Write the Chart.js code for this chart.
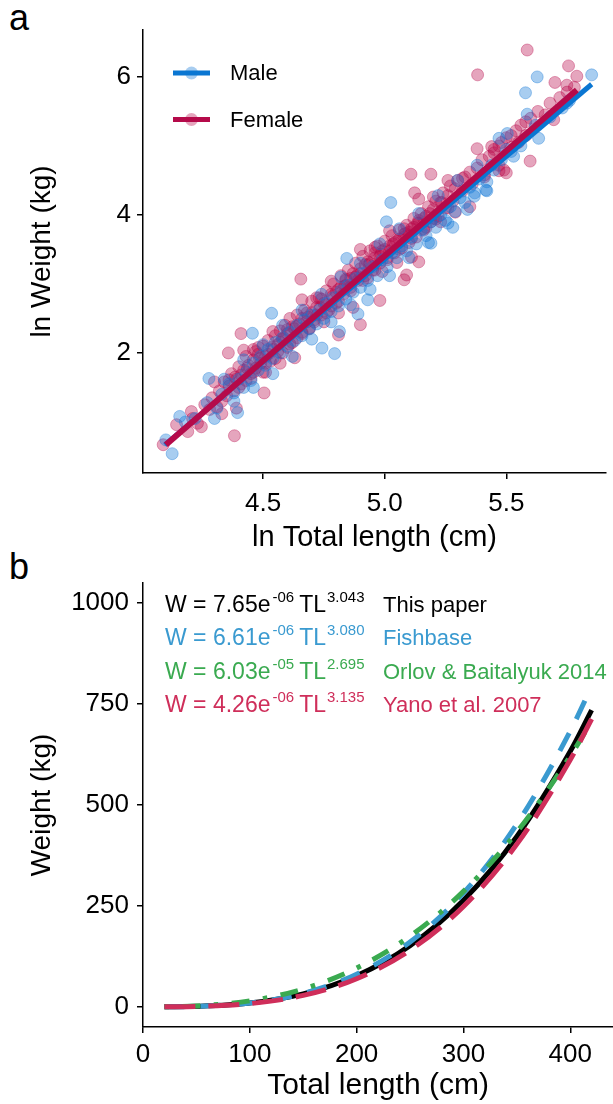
<!DOCTYPE html>
<html>
<head>
<meta charset="utf-8">
<script src="https://cdn.jsdelivr.net/npm/chart.js@4.4.0/dist/chart.umd.min.js"></script>
<style>
  body { margin: 0; background: #fff; width: 613px; height: 1104px; position: relative; overflow: hidden; font-family: "Liberation Sans", Arial, sans-serif; }
  .lab { position: absolute; left: 9px; font-size: 36px; line-height: 36px; color: #000; }
  #wrapA { position: absolute; left: 0; top: 0; }
  #wrapB { position: absolute; left: 0; top: 555px; }
</style>
</head>
<body>
<div class="lab" style="top:0px">a</div>
<div class="lab" style="top:549px">b</div>
<div id="wrapA"><canvas id="chartA" width="613" height="555"></canvas></div>
<div id="wrapB"><canvas id="chartB" width="613" height="549"></canvas></div>
<script>
// ---- panel a: ln weight vs ln total length ----
const femalePoints = [
  [4.21,1.05],[4.23,0.98],[4.26,1.25],[4.28,1.18],[4.29,1.35],[4.31,1.22],[4.32,1.45],[4.33,1.30],[4.34,1.58],[4.35,1.38],
  [4.36,1.52],[4.37,1.70],[4.38,1.45],[4.39,1.62],[4.40,1.80],[4.40,1.50],[4.41,1.68],[4.42,1.75],[4.43,1.95],[4.43,1.60],
  [4.44,1.82],[4.45,1.70],[4.46,1.90],[4.46,2.05],[4.47,1.78],[4.48,1.98],[4.49,1.85],[4.50,2.10],[4.50,1.72],[4.51,1.95],
  [4.52,2.18],[4.53,1.88],[4.54,2.05],[4.55,2.25],[4.55,1.92],[4.56,2.12],[4.57,2.32],[4.58,2.00],[4.58,2.20],[4.59,2.40],
  [4.60,2.08],[4.60,2.28],[4.61,2.50],[4.62,2.15],[4.63,2.35],[4.64,2.55],[4.64,2.22],[4.65,2.42],[4.66,2.30],[4.67,2.62],
  [4.68,2.45],[4.69,2.35],[4.70,2.58],[4.70,2.75],[4.71,2.48],[4.72,2.66],[4.73,2.80],[4.74,2.55],[4.75,2.72],[4.76,2.90],
  [4.77,2.62],[4.78,2.85],[4.79,3.00],[4.80,2.72],[4.81,2.92],[4.82,3.12],[4.83,2.85],[4.84,3.05],[4.85,3.20],[4.86,2.95],
  [4.87,3.15],[4.88,3.30],[4.89,3.05],[4.90,3.22],[4.91,3.40],[4.92,3.12],[4.93,3.32],[4.94,3.48],[4.95,3.20],[4.96,3.38],
  [4.97,3.55],[4.98,3.30],[4.99,3.48],[5.00,3.62],[5.01,3.38],[5.02,3.55],[5.03,3.70],[5.04,3.45],[5.05,3.62],[5.06,3.78],
  [5.07,3.52],[5.08,3.72],[5.09,3.85],[5.10,3.60],[5.11,3.80],[5.12,3.95],[5.13,3.68],[5.14,3.88],[5.15,4.02],[5.16,3.78],
  [5.17,3.98],[5.18,4.12],[5.19,3.90],[5.20,4.08],[5.21,4.20],[5.22,3.98],[5.23,4.18],[5.24,4.32],[5.25,4.10],[5.26,4.28],
  [5.27,4.42],[5.28,4.20],[5.29,4.38],[5.30,4.50],[5.32,4.35],[5.33,4.55],[5.35,4.62],[5.36,4.45],[5.38,4.68],[5.40,4.80],
  [5.41,4.58],[5.43,4.85],[5.45,4.95],[5.47,4.72],[5.48,5.05],[5.50,5.12],[5.52,4.98],[5.54,5.22],[5.56,5.30],[5.58,5.15],
  [5.60,5.40],[5.63,5.50],[5.66,5.45],[5.68,5.62],[5.72,5.70],[5.75,5.78],[5.78,5.85],
  [4.47,2.02],[4.52,1.98],[4.57,2.15],[4.62,2.38],[4.66,2.50],[4.72,2.55],[4.76,2.70],[4.80,2.88],[4.84,2.98],[4.88,3.10],
  [4.92,3.28],[4.96,3.45],[5.00,3.50],[5.04,3.60],[5.08,3.68],[5.12,3.82],[5.16,3.95],[5.20,3.95],[4.68,2.58],[4.74,2.78],
  [4.78,2.68],[4.82,2.95],[4.86,3.08],[4.90,3.15],[4.94,3.30],[4.98,3.40],[5.02,3.48],[5.06,3.65],[5.10,3.75],[5.14,3.92],
  [5.45,4.90],[5.47,5.00],[5.52,5.15],[5.55,5.05],[5.58,5.35],
  [4.30,1.58],[4.33,1.12],[4.36,1.61],[4.39,1.20],[4.42,2.04],[4.45,1.63],[4.48,2.08],[4.51,1.72],[4.54,2.31],[4.57,1.85],
  [4.60,2.34],[4.63,1.93],[4.66,2.77],[4.69,2.36],[4.72,2.80],[4.75,2.45],[4.78,3.04],[4.81,2.58],[4.84,3.07],[4.87,2.66],
  [4.90,3.50],[4.93,3.09],[4.96,3.53],[4.99,3.18],[5.02,3.77],[5.05,3.31],[5.08,3.80],[5.11,3.39],[5.14,4.23],[5.17,3.82],
  [5.20,4.26],[5.23,3.90],[5.26,4.50],[5.29,4.04],[5.32,4.53],[5.35,4.12],[5.38,4.96],[5.41,4.55],[5.44,4.99],[5.47,4.64],
  [4.385,1.65],[4.41,1.55],[4.435,1.78],[4.46,1.72],[4.485,1.92],[4.51,1.85],[4.535,2.08],[4.56,2.02],[4.585,2.22],[4.61,2.13],
  [4.635,2.38],[4.66,2.28],[4.685,2.52],[4.71,2.45],[4.735,2.66],[4.76,2.58],[4.785,2.82],[4.81,2.75],[4.835,2.97],[4.86,2.90],
  [4.885,3.12],[4.91,3.05],[4.935,3.28],[4.96,3.20],[4.985,3.43],[5.01,3.35],[5.035,3.58],[5.06,3.50],[5.085,3.73],[5.11,3.66],
  [5.135,3.88],[5.16,3.80],[5.185,4.02],[5.21,3.94],[5.235,4.18],[5.26,4.10],
  [5.586,6.39],[5.382,6.03],[5.756,6.16],[5.79,6.01],[5.70,5.92],[5.749,5.88],[5.695,5.38],[5.598,4.78],[5.49,4.65],[5.50,4.61],
  [5.108,4.59],[5.19,4.59],[5.123,4.32],[4.98,2.76],[4.90,2.41],[4.81,2.26],[4.655,3.07],[4.409,2.28],[4.357,2.00],[4.504,1.42],
  [4.382,0.80],[4.246,0.93],[4.19,0.86],[4.089,0.67],[4.205,1.15],[4.144,0.96],[5.08,3.06],[5.09,3.13],[5.14,3.32]
];
const malePoints = [
  [4.18,1.00],[4.22,1.05],[4.27,1.28],[4.31,1.20],[4.33,1.40],[4.36,1.55],[4.38,1.42],[4.40,1.62],[4.42,1.50],[4.43,1.72],
  [4.45,1.60],[4.46,1.85],[4.48,1.75],[4.49,1.95],[4.51,1.82],[4.52,2.05],[4.54,1.92],[4.55,2.15],[4.57,2.00],[4.58,2.22],
  [4.60,2.10],[4.61,2.30],[4.63,2.18],[4.64,2.40],[4.66,2.25],[4.67,2.48],[4.69,2.35],[4.70,2.55],[4.72,2.42],[4.73,2.62],
  [4.75,2.50],[4.76,2.72],[4.78,2.60],[4.79,2.80],[4.81,2.68],[4.82,2.90],[4.84,2.78],[4.85,2.98],[4.87,2.88],[4.88,3.08],
  [4.90,2.95],[4.91,3.15],[4.93,3.05],[4.95,3.25],[4.97,3.12],[4.99,3.35],[5.01,3.25],[5.03,3.45],[5.05,3.38],[5.07,3.55],
  [5.09,3.48],[5.11,3.68],[5.13,3.58],[5.15,3.78],[5.17,3.70],[5.19,3.90],[5.21,3.82],[5.23,4.00],[5.25,3.92],[5.27,4.12],
  [5.29,4.05],[5.31,4.25],[5.33,4.18],[5.35,4.40],[5.37,4.32],[5.39,4.52],[5.42,4.48],[5.45,4.65],[5.48,4.80],[5.52,4.92],
  [5.56,5.00],[5.62,5.30],[5.68,5.42],[5.73,5.55],[5.76,5.66],[5.44,4.72],[5.50,4.95],[5.53,4.85],
  [4.30,1.05],[4.34,1.62],[4.38,1.30],[4.42,1.90],[4.46,1.50],[4.50,2.12],[4.54,1.70],[4.58,2.40],[4.62,1.95],[4.66,2.62],
  [4.70,2.20],[4.74,2.85],[4.78,2.45],[4.82,3.10],[4.86,2.70],[4.90,3.30],[4.94,2.92],[4.98,3.58],[5.02,3.12],[5.06,3.80],
  [5.10,3.38],[5.14,4.02],[5.18,3.60],[5.22,4.28],[5.26,3.88],[5.30,4.50],[5.34,4.08],[5.38,4.72],[5.42,4.35],
  [5.851,6.03],[5.627,6.00],[5.579,5.77],[5.586,5.46],[5.633,5.11],[5.47,5.11],[5.504,5.18],[5.416,4.36],[5.368,4.27],[5.025,4.18],
  [5.007,3.90],[5.28,3.82],[5.19,3.59],[4.844,3.37],[4.535,2.575],[4.742,2.07],[4.794,1.99],[4.89,2.565],[4.93,2.77],[4.277,1.63],
  [4.395,1.135],[4.126,0.54],[4.10,0.74],[4.157,1.08],[4.456,2.285],[5.749,5.62],[4.814,2.31]
];
const maleFit = [[4.096,0.667],[5.851,5.894]];
const femaleFit = [[4.100,0.670],[5.790,5.810]];
const xTicksA = [4.5, 5.0, 5.5];
const yTicksA = [2, 4, 6];

// ---- panel b: length-weight curves ----
const totalLength = [20, 50, 100, 150, 200, 250, 300, 350, 400, 420];
const wThisPaper = [0.07, 1.13, 9.3, 32.0, 76.9, 151.6, 264, 422, 633, 735];
const wFishbase  = [0.07, 1.13, 9.6, 33.3, 80.8, 160.6, 281.6, 452.7, 683, 794];
const wOrlov     = [0.19, 2.29, 14.8, 44.2, 95.9, 174.9, 286, 433, 621, 708];
const wYano      = [0.05, 0.90, 7.9, 28.3, 69.7, 140.3, 248.4, 403, 612, 713];
const eqCoef   = ['7.65e', '6.61e', '6.03e', '4.26e'];
const eqExp    = ['-06', '-06', '-05', '-06'];
const eqPow    = ['3.043', '3.080', '2.695', '3.135'];
const sources  = ['This paper', 'Fishbase', 'Orlov & Baitalyuk 2014', 'Yano et al. 2007'];
const xTicksB = [0, 100, 200, 300, 400];
const yTicksB = [0, 250, 500, 750, 1000];

const FONT = '"Liberation Sans", Arial, sans-serif';
const MALE = '#0a76d2', FEMALE = '#b50a4a';
const MALE_PT = 'rgba(20,120,215,0.37)', FEMALE_PT = 'rgba(185,10,75,0.37)';
const curveColors = ['#000000', '#3a9ad0', '#3aaa50', '#cf2e5a'];

const xy = arr => arr.map(p => ({x: p[0], y: p[1]}));

function axis(opts) {
  return Object.assign({
    type: 'linear',
    grid: {drawOnChartArea: false, drawTicks: true, tickLength: 6, color: '#000', lineWidth: 1.5},
    border: {display: true, color: '#000', width: 1.5},
    ticks: {font: {family: FONT, size: 26}, color: '#000', padding: 5}
  }, opts);
}

const legendA = {
  id: 'legendA',
  afterDraw(chart) {
    const c = chart.ctx;
    const items = [['Male', MALE, MALE_PT], ['Female', FEMALE, FEMALE_PT]];
    c.save();
    items.forEach((it, i) => {
      const y = 73 + i * 46.5;
      c.fillStyle = it[2];
      c.beginPath(); c.arc(191.5, y, 6.5, 0, Math.PI * 2); c.fill();
      c.strokeStyle = it[1]; c.lineWidth = 5;
      c.beginPath(); c.moveTo(173, y); c.lineTo(210, y); c.stroke();
      c.fillStyle = '#000'; c.font = '22px ' + FONT; c.textBaseline = 'middle';
      c.fillText(it[0], 230, y + 1);
    });
    c.restore();
  }
};

new Chart(document.getElementById('chartA'), {
  type: 'scatter',
  data: {
    datasets: [
      {type: 'line', label: 'Female fit', data: xy(femaleFit), borderColor: FEMALE, borderWidth: 6, pointRadius: 0, order: 1},
      {type: 'line', label: 'Male fit', data: xy(maleFit), borderColor: MALE, borderWidth: 5, pointRadius: 0, order: 2},
      {label: 'Male', data: xy(malePoints), backgroundColor: MALE_PT, borderColor: MALE_PT, borderWidth: 1, pointRadius: 6, order: 3},
      {label: 'Female', data: xy(femalePoints), backgroundColor: FEMALE_PT, borderColor: FEMALE_PT, borderWidth: 1, pointRadius: 6, order: 4}
    ]
  },
  options: {
    responsive: false, animation: false, events: [],
    layout: {padding: {top: 30, right: 3, bottom: 0, left: 0}},
    plugins: {legend: {display: false}, tooltip: {enabled: false}},
    scales: {
      x: axis({
        min: 4.006, max: 5.91,
        afterBuildTicks: s => { s.ticks = xTicksA.map(v => ({value: v})); },
        afterFit: s => { s.height = 82; },
        ticks: {font: {family: FONT, size: 26}, color: '#000', padding: 9, callback: v => v.toFixed(1)},
        title: {display: true, text: 'ln Total length (cm)', color: '#000', font: {family: FONT, size: 29}, padding: {top: 4, bottom: 0}}
      }),
      y: axis({
        min: 0.26, max: 6.68,
        afterBuildTicks: s => { s.ticks = yTicksA.map(v => ({value: v})); },
        afterFit: s => { s.width = 143; },
        ticks: {font: {family: FONT, size: 26}, color: '#000', padding: 6},
        title: {display: true, text: 'ln Weight (kg)', color: '#000', font: {family: FONT, size: 28}, padding: {top: 25, bottom: 0}}
      })
    }
  },
  plugins: [legendA]
});

const equations = {
  id: 'equations',
  afterDraw(chart) {
    const c = chart.ctx;
    c.save();
    c.textBaseline = 'alphabetic';
    eqCoef.forEach((coef, i) => {
      const y = 57 + i * 33.3;
      c.fillStyle = curveColors[i];
      c.font = '23px ' + FONT;
      const head = 'W = ' + coef;
      c.fillText(head, 165, y);
      let x = 165 + c.measureText(head).width + 2;
      c.font = '15px ' + FONT;
      c.fillText(eqExp[i], x, y - 10);
      x += c.measureText(eqExp[i]).width + 5;
      c.font = '23px ' + FONT;
      c.fillText('TL', x, y);
      x += c.measureText('TL').width + 1;
      c.font = '15px ' + FONT;
      c.fillText(eqPow[i], x, y - 10);
      c.font = '22px ' + FONT;
      c.fillText(sources[i], 383, y);
    });
    c.restore();
  }
};

const curveStyle = [
  {data: wThisPaper, dash: [], order: 4},
  {data: wFishbase, dash: [20, 16], order: 3},
  {data: wOrlov, dash: [4.5, 13.5, 18, 13.5], order: 2},
  {data: wYano, dash: [31, 13], order: 1}
];

new Chart(document.getElementById('chartB'), {
  type: 'line',
  data: {
    datasets: curveStyle.map((s, i) => ({
      label: sources[i],
      data: totalLength.map((t, k) => ({x: t, y: s.data[k]})),
      borderColor: curveColors[i], borderWidth: 5, borderDash: s.dash,
      pointRadius: 0, cubicInterpolationMode: 'monotone', fill: false, order: s.order
    }))
  },
  options: {
    responsive: false, animation: false, events: [],
    layout: {padding: {top: 28, right: 0, bottom: 0, left: 0}},
    plugins: {legend: {display: false}, tooltip: {enabled: false}},
    scales: {
      x: axis({
        min: 0, max: 440,
        afterBuildTicks: s => { s.ticks = xTicksB.map(v => ({value: v})); },
        afterFit: s => { s.height = 77; },
        ticks: {font: {family: FONT, size: 26}, color: '#000', padding: 6},
        title: {display: true, text: 'Total length (cm)', color: '#000', font: {family: FONT, size: 30}, padding: {top: 1, bottom: 0}}
      }),
      y: axis({
        min: -50, max: 1050,
        afterBuildTicks: s => { s.ticks = yTicksB.map(v => ({value: v})); },
        afterFit: s => { s.width = 143; },
        ticks: {font: {family: FONT, size: 26}, color: '#000', padding: 8, callback: v => String(v)},
        title: {display: true, text: 'Weight (kg)', color: '#000', font: {family: FONT, size: 28}, padding: {top: 25, bottom: 0}}
      })
    }
  },
  plugins: [equations]
});
</script>
</body>
</html>
